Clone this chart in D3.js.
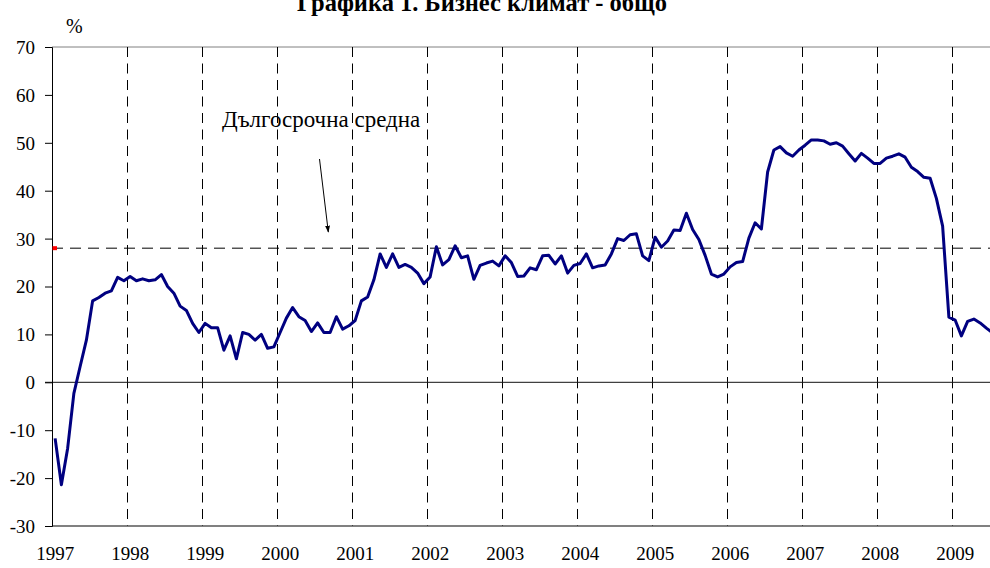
<!DOCTYPE html>
<html><head><meta charset="utf-8">
<script src="https://cdn.jsdelivr.net/npm/d3@7"></script>
<style>
body{margin:0;background:#fff}
svg{display:block}
text{font-family:"Liberation Serif","Times New Roman",serif;fill:#000}
</style>
</head><body>
<svg id="c" width="990" height="568"></svg>
<script>
// ---- data ----
const years = ["1997","1998","1999","2000","2001","2002","2003","2004","2005","2006","2007","2008","2009"];
const yTicks = [-30,-20,-10,0,10,20,30,40,50,60,70];
const title = "Графика 1. Бизнес климат - общо";
const unitLabel = "%";
const annotationText = "Дългосрочна средна";
const longTermAverage = 28;
const values = [
  -11.7,-21.4,-13.8,-2.3,3.3,8.8,17.0,17.7,18.6,19.1,21.9,21.2,
  22.1,21.2,21.6,21.2,21.4,22.5,20.0,18.6,15.9,15.0,12.3,10.4,
  12.3,11.4,11.4,6.7,9.7,4.9,10.4,10.0,8.8,10.0,7.1,7.4,
  10.4,13.4,15.6,13.7,12.9,10.6,12.4,10.4,10.4,13.7,11.1,11.8,
  12.9,17.0,17.8,21.4,26.8,24.0,26.8,24.0,24.6,24.0,22.8,20.6,
  22.0,28.3,24.5,25.6,28.5,26.0,26.4,21.5,24.4,24.9,25.3,24.3,
  26.4,25.0,22.1,22.2,23.9,23.5,26.4,26.5,24.7,26.4,22.8,24.4,
  24.8,26.8,23.9,24.3,24.5,26.8,30.0,29.6,30.8,31.0,26.4,25.4,
  30.3,28.2,29.5,31.8,31.7,35.3,31.9,29.8,26.5,22.6,22.0,22.6,
  24.1,25.0,25.2,30.1,33.3,32.0,43.9,48.5,49.2,47.9,47.2,48.5,
  49.5,50.6,50.6,50.4,49.7,50.0,49.3,47.7,46.2,47.8,46.8,45.7,
  45.7,46.8,47.2,47.7,47.0,44.9,44.0,42.8,42.6,38.4,32.6,13.6,
  13.0,9.7,12.7,13.2,12.4,11.3,10.3
];

// ---- layout ----
const W = 990, H = 568;
const plotLeft = 52, plotTop = 47, plotBottom = 526;
const monthW = 75 / 12;
const months = values.map((v, i) => `${+years[0] + Math.floor(i / 12)}-${(i % 12) + 1}`);

const svg = d3.select("#c");
const x = d3.scaleBand().domain(months).range([plotLeft, plotLeft + months.length * monthW]).paddingInner(0).paddingOuter(0);
const y = d3.scaleLinear().domain([-30, 70]).range([plotBottom, plotTop]);
const bw = x.bandwidth();

// plot border top & bottom
svg.append("line").attr("x1", plotLeft).attr("x2", W).attr("y1", y(70)).attr("y2", y(70))
  .attr("stroke", "#808080").attr("stroke-width", 1);
svg.append("line").attr("x1", plotLeft).attr("x2", W).attr("y1", y(-30)).attr("y2", y(-30))
  .attr("stroke", "#808080").attr("stroke-width", 2);

// vertical year gridlines (dashed)
const gridYears = years.slice(1);
svg.append("g").selectAll("line").data(gridYears).join("line")
  .attr("x1", d => Math.round(x(`${d}-1`)) + 0.5)
  .attr("x2", d => Math.round(x(`${d}-1`)) + 0.5)
  .attr("y1", y(70)).attr("y2", y(-30))
  .attr("stroke", "#000").attr("stroke-width", 1)
  .attr("stroke-dasharray", "10,6.5");

// zero line (category axis) with tick marks
svg.append("line").attr("x1", plotLeft - 7).attr("x2", W).attr("y1", y(0)).attr("y2", y(0))
  .attr("stroke", "#404040").attr("stroke-width", 1.3);
svg.append("g").selectAll("line").data(gridYears).join("line")
  .attr("x1", d => Math.round(x(`${d}-1`)) + 0.5)
  .attr("x2", d => Math.round(x(`${d}-1`)) + 0.5)
  .attr("y1", y(0)).attr("y2", y(0) + 6)
  .attr("stroke", "#000").attr("stroke-width", 1);

// y axis
const yAxis = d3.axisLeft(y).tickValues(yTicks).tickSize(7).tickPadding(10).tickFormat(d3.format("d"));
const ga = svg.append("g").attr("transform", `translate(${plotLeft},0)`).call(yAxis);
ga.select(".domain").attr("stroke", "#000");
ga.selectAll(".tick line").attr("stroke", "#000");
ga.selectAll(".tick text").attr("font-family", '"Liberation Serif","Times New Roman",serif')
  .attr("font-size", 19).attr("fill", "#000").attr("dy", "0.34em")
  .text(d => d < 0 ? "-" + Math.abs(d) : d);

// x labels
svg.append("g").selectAll("text").data(years).join("text")
  .attr("x", d => x(`${d}-1`) + bw / 2)
  .attr("y", 560)
  .attr("text-anchor", "middle")
  .attr("font-size", 19)
  .text(d => d);

// long-term average line
svg.append("line").attr("x1", plotLeft).attr("x2", W)
  .attr("y1", y(longTermAverage)).attr("y2", y(longTermAverage))
  .attr("stroke", "#000").attr("stroke-width", 1).attr("stroke-dasharray", "11,7");
svg.append("rect").attr("x", plotLeft + 0.5).attr("y", y(longTermAverage) - 2)
  .attr("width", 4.5).attr("height", 4).attr("fill", "#ff0000");

// series line
const line = d3.line().x((d, i) => x(months[i]) + bw / 2).y(d => y(d));
svg.append("path").datum(values).attr("d", line)
  .attr("fill", "none").attr("stroke", "#000080").attr("stroke-width", 3)
  .attr("stroke-linejoin", "round");

// annotation
svg.append("text").attr("x", 222).attr("y", 127).attr("font-size", 23).text(annotationText);
svg.append("defs").append("marker").attr("id", "ah").attr("viewBox", "0 0 10 10")
  .attr("refX", 9).attr("refY", 5).attr("markerWidth", 7).attr("markerHeight", 7)
  .attr("orient", "auto").append("path").attr("d", "M0,1.5L10,5L0,8.5Z").attr("fill", "#000");
svg.append("line").attr("x1", 319.5).attr("y1", 159).attr("x2", 328.3).attr("y2", 232)
  .attr("stroke", "#000").attr("stroke-width", 1).attr("marker-end", "url(#ah)");

// title and unit
svg.append("text").attr("x", 482).attr("y", 11).attr("text-anchor", "middle")
  .attr("font-size", 24.5).attr("font-weight", "bold").text(title);
svg.append("text").attr("x", 66).attr("y", 33).attr("font-size", 20).text(unitLabel);
</script>
</body></html>
